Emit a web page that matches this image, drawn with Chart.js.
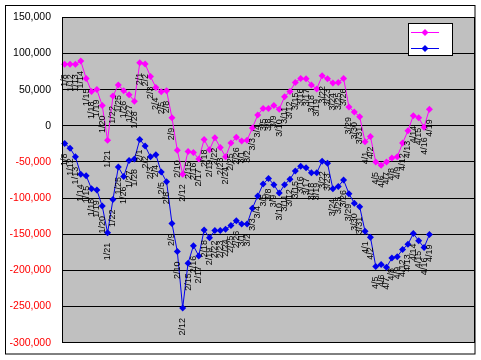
<!DOCTYPE html>
<html>
<head>
<meta charset="utf-8">
<script src="https://cdn.jsdelivr.net/npm/chart.js@4.4.0/dist/chart.umd.min.js"></script>
<style>
  html, body { margin: 0; padding: 0; background: #fff; }
</style>
</head>
<body>
<canvas id="chart" width="481" height="360"></canvas>
<script>
// trading days shown as data labels
const dates = [
  '1/8', '1/12', '1/13', '1/14', '1/15', '1/18', '1/19', '1/20', '1/21', '1/22',
  '1/25', '1/26', '1/27', '1/28', '2/1', '2/2', '2/3', '2/4', '2/5', '2/8',
  '2/9', '2/10', '2/12', '2/15', '2/16', '2/17', '2/18', '2/19', '2/22', '2/23',
  '2/24', '2/25', '2/26', '3/1', '3/2', '3/3', '3/4', '3/5', '3/8', '3/9',
  '3/10', '3/11', '3/12', '3/15', '3/16', '3/17', '3/18', '3/19', '3/22', '3/23',
  '3/24', '3/25', '3/26', '3/29', '3/30', '3/31', '4/1', '4/2', '4/5', '4/6',
  '4/7', '4/8', '4/9', '4/12', '4/13', '4/14', '4/15', '4/16', '4/19'
];
// empty categories after the last date (the axis runs on past 4/19)
const emptySlots = 8;

const pinkValues = [
  85000, 85000, 85000, 89500, 65500, 47500, 50000, 28000, -20000, 41000,
  56500, 48500, 43000, 34000, 87000, 85500, 68000, 53000, 47000, 48500,
  11000, -34000, -67000, -35500, -37000, -46000, -19000, -33000, -16500, -30000,
  -43000, -24000, -16000, -21000, -20000, -3000, 15000, 24000, 24000, 28000,
  23000, 40000, 47500, 60000, 65500, 65000, 56500, 51000, 69000, 65000,
  59000, 60000, 65500, 26000, 19000, 12500, -22000, -15000, -50000, -54500,
  -50000, -44500, -43000, -24000, -7000, 14000, 11000, -2000, 23000
];
const blueValues = [
  -24500, -31000, -43000, -67000, -69000, -87000, -89000, -111000, -148000, -102000,
  -57000, -70000, -48000, -46000, -19000, -28000, -43000, -40000, -64000, -77500,
  -135000, -174000, -252000, -190000, -166000, -180000, -144000, -155000, -145000, -145000,
  -143000, -138000, -131500, -136000, -136000, -114000, -97000, -80500, -73000, -81500,
  -93000, -81500, -74000, -62500, -56000, -58000, -65000, -65000, -49000, -52000,
  -87000, -84000, -75000, -94000, -107000, -112000, -146000, -154000, -194500, -192000,
  -195500, -183000, -181000, -171000, -164000, -149000, -159000, -168500, -150500
];

const yMin = -300000;
const yMax = 150000;
const yStep = 50000;

const PINK = '#ff00ff';
const BLUE = '#0000ee';
const FONT = '"Liberation Sans", Arial, sans-serif';

const categories = dates.concat(Array(emptySlots).fill(''));

// grey plot area, like an old Excel chart
const plotBackground = {
  id: 'plotBackground',
  beforeDraw(chart) {
    const { ctx, chartArea: a } = chart;
    ctx.save();
    ctx.fillStyle = '#fff';
    ctx.fillRect(0, 0, chart.width, chart.height);
    ctx.fillStyle = '#c0c0c0';
    ctx.fillRect(a.left, a.top, a.right - a.left, a.bottom - a.top);
    ctx.restore();
  }
};

// vertical date labels under every point
const dateLabels = {
  id: 'dateLabels',
  afterDatasetsDraw(chart) {
    const ctx = chart.ctx;
    ctx.save();
    ctx.font = '9px ' + FONT;
    ctx.fillStyle = '#000';
    ctx.textAlign = 'right';
    ctx.textBaseline = 'middle';
    chart.data.datasets.forEach((ds, di) => {
      chart.getDatasetMeta(di).data.forEach((pt, i) => {
        if (ds.data[i] == null) return;
        ctx.save();
        ctx.translate(pt.x, pt.y + 10);
        ctx.rotate(-Math.PI / 2);
        ctx.fillText(dates[i], 0, 0);
        ctx.restore();
      });
    });
    ctx.restore();
  }
};

function diamond(ctx, x, y, r, color) {
  ctx.beginPath();
  ctx.moveTo(x, y - r);
  ctx.lineTo(x + r, y);
  ctx.lineTo(x, y + r);
  ctx.lineTo(x - r, y);
  ctx.closePath();
  ctx.fillStyle = color;
  ctx.fill();
}

// borders and the little legend box (series have no names)
const frame = {
  id: 'frame',
  afterDraw(chart) {
    const { ctx, chartArea: a } = chart;
    ctx.save();
    ctx.strokeStyle = '#000';
    ctx.lineWidth = 1;
    ctx.strokeRect(Math.round(a.left) + 0.5, Math.round(a.top) + 0.5,
      Math.round(a.right - a.left) - 1, Math.round(a.bottom - a.top));
    ctx.strokeRect(5.5, 5.5, 469.5, 348.5);

    // legend
    ctx.fillStyle = '#fff';
    ctx.fillRect(408, 23, 44, 32);
    ctx.strokeRect(408.5, 23.5, 44, 32);
    [[PINK, 32.5], [BLUE, 48.5]].forEach(([c, y]) => {
      ctx.strokeStyle = c;
      ctx.beginPath();
      ctx.moveTo(411, y);
      ctx.lineTo(439, y);
      ctx.stroke();
      diamond(ctx, 425, y, 3.5, c);
    });
    ctx.restore();
  }
};

new Chart(document.getElementById('chart'), {
  type: 'line',
  data: {
    labels: categories,
    datasets: [
      {
        data: pinkValues,
        borderColor: PINK,
        backgroundColor: PINK,
        borderWidth: 1,
        pointStyle: 'rectRot',
        pointRadius: 3.5,
        pointBorderWidth: 0,
        tension: 0,
        order: 1
      },
      {
        data: blueValues,
        borderColor: BLUE,
        backgroundColor: BLUE,
        borderWidth: 1,
        pointStyle: 'rectRot',
        pointRadius: 3.5,
        pointBorderWidth: 0,
        tension: 0,
        order: 0
      }
    ]
  },
  options: {
    responsive: false,
    animation: false,
    devicePixelRatio: 1,
    layout: { padding: { left: 5, top: 15, right: 6, bottom: 14 } },
    plugins: {
      legend: { display: false },
      tooltip: { enabled: false }
    },
    scales: {
      x: {
        type: 'category',
        display: false,
        offset: true
      },
      y: {
        min: yMin,
        max: yMax,
        afterFit(scale) { scale.width = 57; },
        ticks: {
          stepSize: yStep,
          padding: 11,
          color: ctx => ctx.tick.value < 0 ? '#ff0000' : '#000',
          font: { family: FONT, size: 10.5 },
          callback: v => v.toLocaleString('en-US')
        },
        grid: { color: '#000', lineWidth: 1, drawTicks: false },
        border: { display: false }
      }
    }
  },
  plugins: [plotBackground, dateLabels, frame]
});
</script>
</body>
</html>
